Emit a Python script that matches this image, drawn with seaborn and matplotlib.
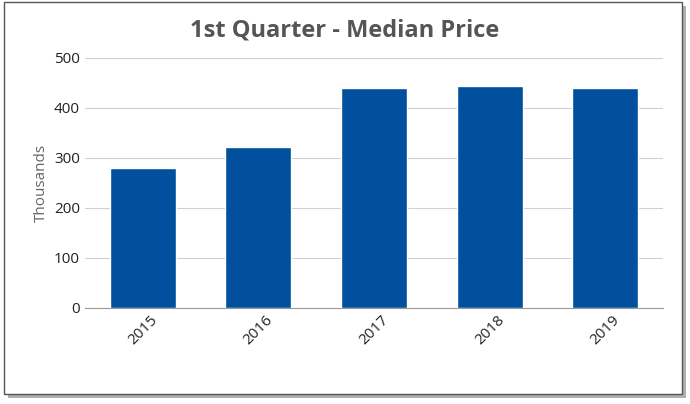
import matplotlib
matplotlib.use("Agg")
import matplotlib.pyplot as plt
import matplotlib.patches as mpatches
import seaborn as sns
import pandas as pd

years = ["2015", "2016", "2017", "2018", "2019"]
prices = [280, 321, 439, 443, 439]

df = pd.DataFrame({"year": years, "price": prices})

sns.set_style("white")
plt.rcParams["font.family"] = "Open Sans"

fig = plt.figure(figsize=(6.9, 4.04), dpi=100)

# outer frame with drop shadow, kept behind the axes
fig.patches.append(mpatches.Rectangle((8 / 690, 6 / 404), 678 / 690, 392 / 404,
                                      transform=fig.transFigure, facecolor="#b0b0b0",
                                      edgecolor="none", zorder=-3))
fig.patches.append(mpatches.Rectangle((4 / 690, 10 / 404), 678 / 690, 392 / 404,
                                      transform=fig.transFigure, facecolor="white",
                                      edgecolor="#555555", linewidth=1, zorder=-2))

ax = fig.add_axes([0.123, 0.238, 0.838, 0.619])
ax.set_facecolor("none")
sns.barplot(data=df, x="year", y="price", color="#00509e", width=0.57,
            saturation=1, ax=ax, zorder=3)

ax.set_ylim(0, 500)
ax.set_yticks(range(0, 501, 100))
ax.yaxis.grid(True, color="#d0d0d0", linewidth=0.8, zorder=0)
ax.set_axisbelow(True)
ax.set_xlabel("")
ax.set_ylabel("Thousands", color="#666666", fontsize=11)
for s in ["top", "right", "left"]:
    ax.spines[s].set_visible(False)
ax.spines["bottom"].set_color("#999999")
ax.tick_params(axis="y", length=0, labelsize=11, colors="#222222")
ax.tick_params(axis="x", labelsize=11, colors="#222222")
ax.set_xticks([i + 0.5 for i in range(-1, 5)], minor=True)
ax.tick_params(axis="x", which="minor", length=5, color="#999999")
ax.tick_params(axis="x", which="major", length=0)
plt.setp(ax.get_xticklabels(), rotation=45)

fig.text(0.5, 0.925, "1st Quarter - Median Price", ha="center", va="center",
         fontsize=17, fontweight="bold", color="#555555")

fig.savefig("out.png", dpi=100)
